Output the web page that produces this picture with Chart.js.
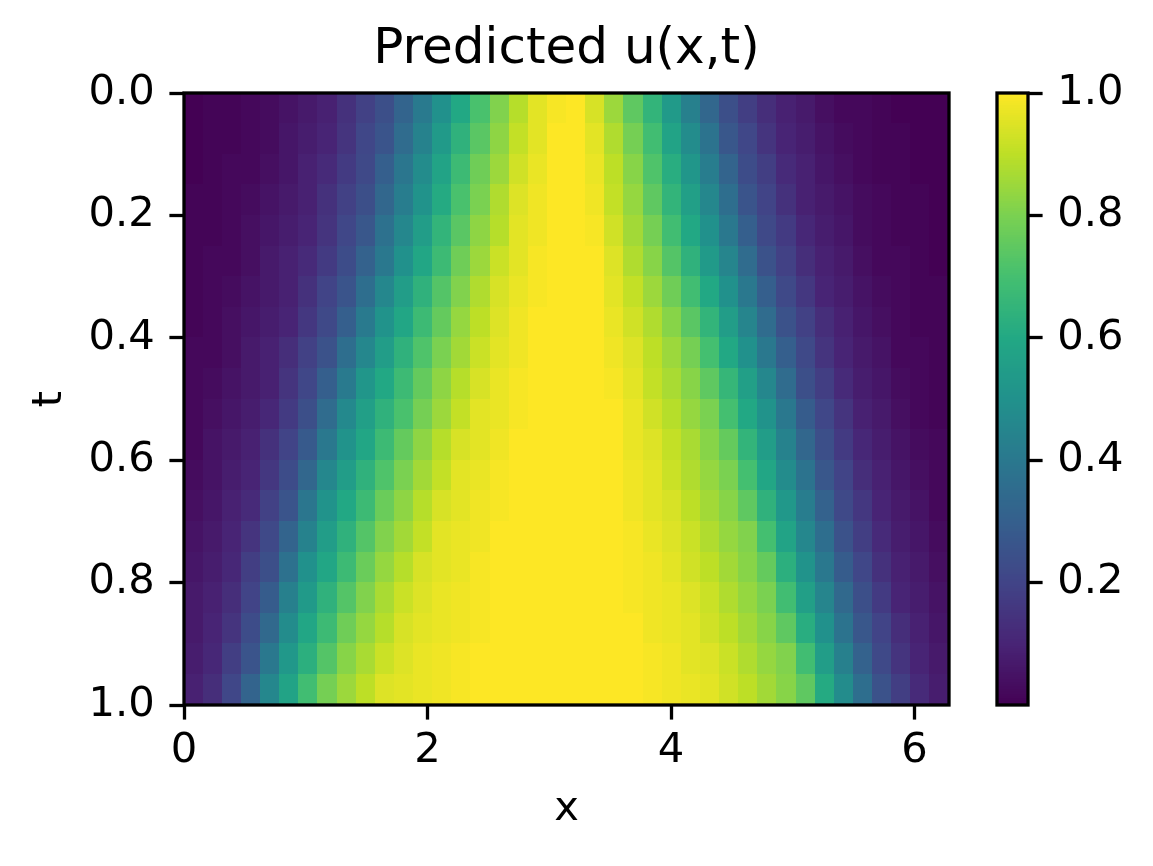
<!DOCTYPE html>
<html>
<head>
<meta charset="utf-8">
<title>Predicted u(x,t)</title>
<script src="https://cdn.jsdelivr.net/npm/chart.js@4.4.1/dist/chart.umd.min.js"></script>
<style>
  html, body { margin: 0; padding: 0; background: #fff; }
  #wrap { position: relative; width: 1153px; height: 866px; }
  #heatmap { position: absolute; left: 0; top: 0; }
  #colorbar { position: absolute; left: 960px; top: 0; }
</style>
</head>
<body>
<div id="wrap">
  <canvas id="heatmap" width="1153" height="866"></canvas>
  <canvas id="colorbar" width="193" height="866"></canvas>
</div>
<script>
const X_MAX = 2 * Math.PI;
const nX = 40;          // columns across x in [0, 2pi]
const tStep = 0.05;     // row height in t

const xTicks = [0, 2, 4, 6];
const tTicks = [0, 0.2, 0.4, 0.6, 0.8, 1.0];
const cbarTicks = [0.2, 0.4, 0.6, 0.8, 1.0];

// row centres in t (top to bottom)
const tRows = [0.025, 0.075, 0.125, 0.175, 0.225, 0.275, 0.325, 0.375, 0.425, 0.475,
               0.525, 0.575, 0.625, 0.675, 0.725, 0.775, 0.825, 0.875, 0.925, 0.975];

// u(x,t), one row per t
const u_t00 = [0.00,0.01,0.01,0.02,0.03,0.05,0.07,0.09,0.14,0.19,0.24,0.32,0.41,0.50,0.60,0.71,0.81,0.89,0.96,0.99,1.00,0.94,0.85,0.75,0.65,0.54,0.43,0.33,0.24,0.18,0.13,0.09,0.07,0.04,0.02,0.02,0.01,0.00,0.00,0.00];
const u_t01 = [0.00,0.01,0.01,0.02,0.03,0.06,0.08,0.10,0.15,0.21,0.26,0.35,0.44,0.54,0.64,0.74,0.83,0.91,0.96,1.00,1.00,0.96,0.88,0.79,0.69,0.58,0.48,0.38,0.27,0.21,0.15,0.10,0.08,0.05,0.03,0.02,0.01,0.01,0.00,0.00];
const u_t02 = [0.00,0.01,0.02,0.02,0.04,0.06,0.09,0.12,0.17,0.22,0.30,0.39,0.48,0.58,0.68,0.78,0.85,0.93,0.97,1.00,1.00,0.97,0.90,0.82,0.72,0.62,0.52,0.42,0.32,0.23,0.18,0.12,0.09,0.06,0.04,0.02,0.01,0.01,0.00,0.00];
const u_t03 = [0.01,0.01,0.02,0.03,0.05,0.07,0.09,0.14,0.19,0.24,0.33,0.42,0.51,0.61,0.71,0.80,0.88,0.95,0.98,1.00,1.00,0.98,0.91,0.84,0.75,0.65,0.56,0.46,0.36,0.26,0.20,0.14,0.09,0.07,0.05,0.03,0.02,0.01,0.01,0.00];
const u_t04 = [0.01,0.01,0.02,0.04,0.06,0.08,0.10,0.15,0.21,0.27,0.37,0.46,0.55,0.65,0.74,0.83,0.89,0.96,0.98,1.00,1.00,0.99,0.93,0.86,0.79,0.69,0.60,0.50,0.40,0.30,0.22,0.17,0.11,0.08,0.06,0.03,0.02,0.01,0.01,0.00];
const u_t05 = [0.01,0.02,0.02,0.04,0.07,0.09,0.12,0.17,0.23,0.31,0.40,0.50,0.59,0.68,0.78,0.85,0.92,0.96,0.99,1.00,1.00,1.00,0.95,0.88,0.82,0.73,0.64,0.54,0.45,0.35,0.25,0.19,0.13,0.09,0.07,0.04,0.02,0.02,0.01,0.00];
const u_t06 = [0.01,0.02,0.03,0.05,0.07,0.09,0.14,0.20,0.26,0.36,0.46,0.55,0.64,0.73,0.81,0.88,0.94,0.97,0.99,1.00,1.00,1.00,0.96,0.91,0.85,0.78,0.69,0.60,0.50,0.40,0.30,0.22,0.16,0.10,0.08,0.05,0.03,0.02,0.01,0.01];
const u_t07 = [0.01,0.02,0.04,0.06,0.08,0.10,0.16,0.22,0.30,0.41,0.51,0.59,0.68,0.76,0.84,0.90,0.95,0.98,1.00,1.00,1.00,1.00,0.97,0.93,0.88,0.82,0.74,0.65,0.55,0.45,0.35,0.25,0.19,0.13,0.09,0.06,0.04,0.02,0.01,0.01];
const u_t08 = [0.02,0.02,0.04,0.07,0.09,0.13,0.19,0.25,0.36,0.46,0.55,0.64,0.72,0.80,0.86,0.92,0.96,0.98,1.00,1.00,1.00,1.00,0.98,0.95,0.90,0.85,0.79,0.70,0.60,0.50,0.40,0.30,0.22,0.15,0.10,0.07,0.05,0.02,0.02,0.01];
const u_t09 = [0.02,0.03,0.05,0.07,0.09,0.15,0.21,0.30,0.41,0.52,0.60,0.68,0.76,0.83,0.89,0.94,0.97,0.99,1.00,1.00,1.00,1.00,0.99,0.96,0.91,0.87,0.82,0.75,0.66,0.56,0.46,0.35,0.24,0.18,0.12,0.08,0.06,0.03,0.02,0.01];
const u_t10 = [0.02,0.04,0.06,0.08,0.11,0.17,0.24,0.35,0.47,0.56,0.64,0.71,0.79,0.85,0.91,0.96,0.97,0.99,1.00,1.00,1.00,1.00,1.00,0.97,0.93,0.89,0.84,0.80,0.70,0.60,0.51,0.40,0.29,0.21,0.15,0.09,0.07,0.04,0.02,0.01];
const u_t11 = [0.02,0.05,0.07,0.09,0.14,0.20,0.28,0.40,0.51,0.59,0.68,0.76,0.83,0.89,0.94,0.96,0.98,1.00,1.00,1.00,1.00,1.00,1.00,0.97,0.95,0.91,0.87,0.82,0.76,0.65,0.55,0.44,0.33,0.24,0.17,0.11,0.08,0.05,0.03,0.02];
const u_t12 = [0.03,0.05,0.08,0.10,0.16,0.23,0.33,0.46,0.55,0.64,0.72,0.80,0.86,0.91,0.96,0.97,0.99,1.00,1.00,1.00,1.00,1.00,1.00,0.98,0.96,0.92,0.88,0.84,0.80,0.70,0.59,0.48,0.38,0.27,0.20,0.13,0.09,0.06,0.04,0.02];
const u_t13 = [0.04,0.06,0.09,0.12,0.19,0.26,0.39,0.51,0.60,0.68,0.77,0.83,0.89,0.94,0.96,0.98,0.99,1.00,1.00,1.00,1.00,1.00,1.00,0.98,0.96,0.94,0.90,0.86,0.82,0.75,0.64,0.53,0.42,0.31,0.22,0.16,0.10,0.07,0.05,0.02];
const u_t14 = [0.05,0.07,0.10,0.15,0.22,0.32,0.44,0.55,0.64,0.73,0.81,0.86,0.91,0.96,0.97,0.98,1.00,1.00,1.00,1.00,1.00,1.00,1.00,0.99,0.97,0.95,0.92,0.88,0.84,0.81,0.70,0.58,0.46,0.36,0.25,0.18,0.12,0.08,0.06,0.03];
const u_t15 = [0.06,0.08,0.11,0.18,0.24,0.37,0.50,0.59,0.68,0.77,0.84,0.89,0.94,0.96,0.97,0.99,1.00,1.00,1.00,1.00,1.00,1.00,1.00,0.99,0.98,0.96,0.93,0.90,0.86,0.82,0.76,0.63,0.51,0.40,0.29,0.21,0.14,0.09,0.07,0.04];
const u_t16 = [0.07,0.09,0.13,0.20,0.29,0.43,0.54,0.64,0.73,0.81,0.87,0.92,0.95,0.97,0.98,0.99,1.00,1.00,1.00,1.00,1.00,1.00,1.00,0.99,0.98,0.97,0.95,0.92,0.88,0.84,0.80,0.69,0.56,0.45,0.34,0.24,0.17,0.10,0.08,0.05];
const u_t17 = [0.07,0.10,0.15,0.23,0.34,0.48,0.59,0.68,0.78,0.84,0.89,0.94,0.96,0.97,0.98,0.99,1.00,1.00,1.00,1.00,1.00,1.00,1.00,1.00,0.98,0.97,0.96,0.93,0.90,0.86,0.82,0.75,0.62,0.50,0.38,0.27,0.20,0.13,0.09,0.06];
const u_t18 = [0.08,0.11,0.18,0.26,0.40,0.53,0.63,0.73,0.82,0.87,0.92,0.95,0.97,0.98,0.99,1.00,1.00,1.00,1.00,1.00,1.00,1.00,1.00,1.00,0.99,0.98,0.96,0.95,0.92,0.88,0.84,0.81,0.69,0.55,0.43,0.31,0.22,0.15,0.10,0.07];
const u_t19 = [0.09,0.13,0.21,0.32,0.46,0.58,0.69,0.79,0.85,0.90,0.95,0.96,0.97,0.98,0.99,1.00,1.00,1.00,1.00,1.00,1.00,1.00,1.00,1.00,0.99,0.98,0.97,0.96,0.93,0.90,0.86,0.82,0.75,0.61,0.48,0.36,0.25,0.18,0.12,0.08];

const uRows = [u_t00, u_t01, u_t02, u_t03, u_t04, u_t05, u_t06, u_t07, u_t08, u_t09,
               u_t10, u_t11, u_t12, u_t13, u_t14, u_t15, u_t16, u_t17, u_t18, u_t19];

uRows.forEach((row, i) => {
    if (row.length !== nX) throw new Error('row ' + i + ' has ' + row.length + ' values');
});

// viridis anchors at 0, 0.1, ..., 1
const viridis = ['#440154', '#482475', '#414487', '#355f8d', '#2a788e', '#21918c',
                 '#22a884', '#44bf70', '#7ad151', '#bddf26', '#fde725'];
const viridisRgb = viridis.map(h => [1, 3, 5].map(i => parseInt(h.substr(i, 2), 16)));

function viridisColor(v) {
    const p = Math.min(Math.max(v, 0), 1) * (viridis.length - 1);
    const i = Math.min(Math.floor(p), viridis.length - 2);
    const f = p - i;
    const a = viridisRgb[i], b = viridisRgb[i + 1];
    const c = a.map((ch, k) => Math.round(ch + (b[k] - ch) * f));
    return `rgb(${c[0]},${c[1]},${c[2]})`;
}

Chart.defaults.font.family = "'DejaVu Sans', sans-serif";
Chart.defaults.color = '#000';

const TICK_FONT = { size: 41.7 };
const TICK_LEN = 14.6;
const LINE_W = 3.3;

function drawFrame(chart) {
    const { ctx, chartArea: a } = chart;
    ctx.save();
    ctx.strokeStyle = '#000';
    ctx.lineWidth = LINE_W;
    ctx.strokeRect(a.left, a.top, a.right - a.left, a.bottom - a.top);
    ctx.restore();
}

// paints every cell through the chart scales
const heatPlugin = {
    id: 'heat',
    beforeDatasetsDraw(chart) {
        const { ctx, scales: { x, y } } = chart;
        ctx.save();
        uRows.forEach((row, r) => {
            const ya = y.getPixelForValue(tRows[r] - tStep / 2);
            const yb = y.getPixelForValue(tRows[r] + tStep / 2);
            const top = Math.floor(Math.min(ya, yb));
            const h = Math.ceil(Math.max(ya, yb)) - top;
            row.forEach((v, c) => {
                const x0 = Math.floor(x.getPixelForValue(c * X_MAX / nX));
                const x1 = Math.ceil(x.getPixelForValue((c + 1) * X_MAX / nX));
                ctx.fillStyle = viridisColor(v);
                ctx.fillRect(x0, top, x1 - x0, h);
            });
        });
        ctx.restore();
    },
    afterDatasetsDraw(chart) {
        drawFrame(chart);
    }
};

const cellPoints = [];
uRows.forEach((row, r) => row.forEach((v, c) => {
    cellPoints.push({ x: (c + 0.5) * X_MAX / nX, y: tRows[r], v: v });
}));

new Chart(document.getElementById('heatmap'), {
    type: 'scatter',
    data: { datasets: [{ label: 'u(x,t)', data: cellPoints, pointRadius: 0 }] },
    options: {
        responsive: false,
        animation: false,
        events: [],
        layout: { padding: { left: 0, right: 204, top: 0, bottom: 0 } },
        plugins: {
            legend: { display: false },
            tooltip: { enabled: false },
            title: {
                display: true,
                text: 'Predicted u(x,t)',
                fullSize: false,
                color: '#000',
                font: { size: 50, weight: 'normal' },
                padding: { top: 20.5, bottom: 12.5 }
            }
        },
        scales: {
            x: {
                type: 'linear',
                min: 0,
                max: X_MAX,
                afterBuildTicks: s => { s.ticks = xTicks.map(v => ({ value: v })); },
                afterFit: s => { s.height = 161; },
                border: { display: false },
                grid: { drawOnChartArea: false, drawTicks: true, tickLength: TICK_LEN, tickWidth: LINE_W, tickColor: '#000' },
                ticks: { callback: v => String(v), padding: 7, autoSkip: false, maxRotation: 0, font: TICK_FONT, color: '#000' },
                title: { display: true, text: 'x', font: TICK_FONT, color: '#000', padding: { top: 0, bottom: 31.4 } }
            },
            y: {
                type: 'linear',
                min: 0,
                max: 1,
                reverse: true,
                afterBuildTicks: s => { s.ticks = tTicks.map(v => ({ value: v })); },
                afterFit: s => { s.width = 184; },
                border: { display: false },
                grid: { drawOnChartArea: false, drawTicks: true, tickLength: TICK_LEN, tickWidth: LINE_W, tickColor: '#000' },
                ticks: { callback: v => v.toFixed(1), padding: 14.6, autoSkip: false, font: TICK_FONT, color: '#000' },
                title: { display: true, text: 't', font: TICK_FONT, color: '#000', padding: { top: 25.6, bottom: 0 } }
            }
        }
    },
    plugins: [heatPlugin]
});

// colour bar: the viridis ramp drawn along its own 0..1 scale
const cbarPlugin = {
    id: 'cbar',
    beforeDatasetsDraw(chart) {
        const { ctx, chartArea: a, scales: { y } } = chart;
        const steps = 256;
        ctx.save();
        for (let k = 0; k < steps; k++) {
            const yb = y.getPixelForValue(k / steps);
            const yt = y.getPixelForValue((k + 1) / steps);
            ctx.fillStyle = viridisColor((k + 0.5) / steps);
            ctx.fillRect(a.left, Math.floor(yt), a.right - a.left, Math.ceil(yb) - Math.floor(yt));
        }
        ctx.restore();
    },
    afterDatasetsDraw(chart) {
        drawFrame(chart);
    }
};

new Chart(document.getElementById('colorbar'), {
    type: 'scatter',
    data: { datasets: [{ data: [], pointRadius: 0 }] },
    options: {
        responsive: false,
        animation: false,
        events: [],
        layout: { padding: { left: 37, right: 0, top: 93, bottom: 161 } },
        plugins: { legend: { display: false }, tooltip: { enabled: false } },
        scales: {
            x: { display: false, min: 0, max: 1 },
            y: {
                position: 'right',
                min: 0,
                max: 1,
                afterBuildTicks: s => { s.ticks = cbarTicks.map(v => ({ value: v })); },
                afterFit: s => { s.width = 125; },
                border: { display: false },
                grid: { drawOnChartArea: false, drawTicks: true, tickLength: TICK_LEN, tickWidth: LINE_W, tickColor: '#000' },
                ticks: { callback: v => v.toFixed(1), padding: 14.6, autoSkip: false, font: TICK_FONT, color: '#000' }
            }
        }
    },
    plugins: [cbarPlugin]
});
</script>
</body>
</html>
